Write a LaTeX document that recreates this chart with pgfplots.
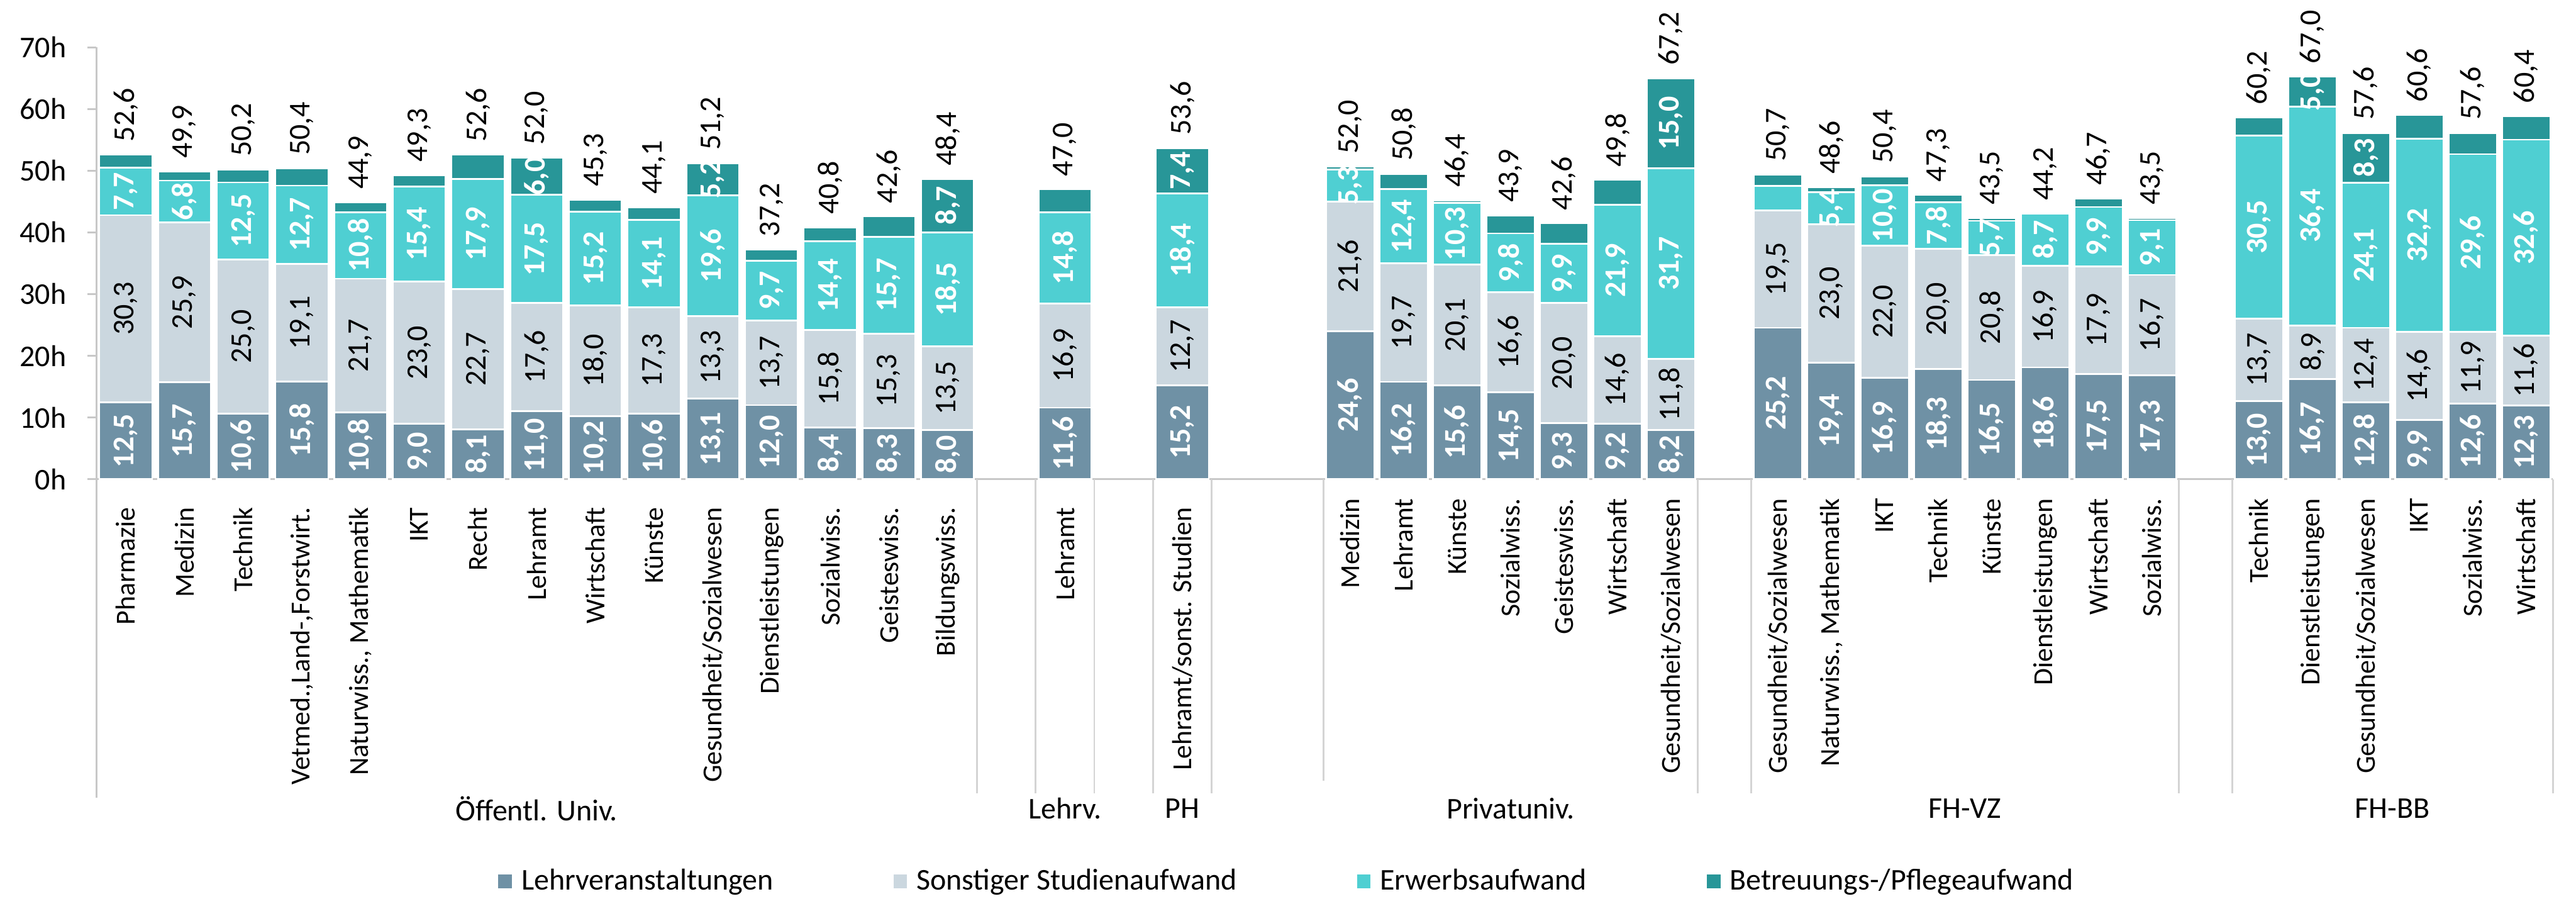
\documentclass[border=0pt]{standalone}
\usepackage{fontspec}
\setmainfont{Carlito}
\usepackage{pgfplots}
\usepackage{pgfplotstable}
\pgfplotsset{compat=1.18}
\pgfdeclarelayer{fg}
\pgfsetlayers{main,fg}

\definecolor{cL}{HTML}{6F91A5}
\definecolor{cS}{HTML}{CBD7DF}
\definecolor{cE}{HTML}{4FCFD2}
\definecolor{cB}{HTML}{289698}
\definecolor{axgray}{HTML}{C8C8C8}
\definecolor{divgray}{HTML}{D4D4D4}
\newcommand\fs{\fontsize{10.2}{12.2}\selectfont}
\newcommand\fc{\fontsize{9.3}{11}\selectfont}

\pgfplotstableread{
x  L    S    E    B    lL   lS   lE   lB  lT
0  12.5 30.3 7.7  2.1  12,5 30,3 7,7  {}  52,6
1  15.7 25.9 6.8  1.5  15,7 25,9 6,8  {}  49,9
2  10.6 25.0 12.5 2.1  10,6 25,0 12,5 {}  50,2
3  15.8 19.1 12.7 2.8  15,8 19,1 12,7 {}  50,4
4  10.8 21.7 10.8 1.6  10,8 21,7 10,8 {}  44,9
5  9.0  23.0 15.4 1.9  9,0  23,0 15,4 {}  49,3
6  8.1  22.7 17.9 3.9  8,1  22,7 17,9 {}  52,6
7  11.0 17.6 17.5 6.0  11,0 17,6 17,5 6,0 52,0
8  10.2 18.0 15.2 1.9  10,2 18,0 15,2 {}  45,3
9  10.6 17.3 14.1 2.1  10,6 17,3 14,1 {}  44,1
10 13.1 13.3 19.6 5.2  13,1 13,3 19,6 5,2 51,2
11 12.0 13.7 9.7  1.8  12,0 13,7 9,7  {}  37,2
12 8.4  15.8 14.4 2.2  8,4  15,8 14,4 {}  40,8
13 8.3  15.3 15.7 3.3  8,3  15,3 15,7 {}  42,6
14 8.0  13.5 18.5 8.7  8,0  13,5 18,5 8,7 48,4
16 11.6 16.9 14.8 3.7  11,6 16,9 14,8 {}  47,0
18 15.2 12.7 18.4 7.4  15,2 12,7 18,4 7,4 53,6
}\tabA

\pgfplotstableread{
x  L    S    E    B    lL   lS   lE   lB   lT
2  24.6 21.6 5.3  0.5  24,6 21,6 5,3  {}   52,0
3  16.2 19.7 12.4 2.5  16,2 19,7 12,4 {}   50,8
4  15.6 20.1 10.3 0.4  15,6 20,1 10,3 {}   46,4
5  14.5 16.6 9.8  3.0  14,5 16,6 9,8  {}   43,9
6  9.3  20.0 9.9  3.4  9,3  20,0 9,9  {}   42,6
7  9.2  14.6 21.9 4.1  9,2  14,6 21,9 {}   49,8
8  8.2  11.8 31.7 15.0 8,2  11,8 31,7 15,0 67,2
10 25.2 19.5 4.1  1.9  25,2 19,5 {}   {}   50,7
11 19.4 23.0 5.4  0.8  19,4 23,0 5,4  {}   48,6
12 16.9 22.0 10.0 1.5  16,9 22,0 10,0 {}   50,4
13 18.3 20.0 7.8  1.2  18,3 20,0 7,8  {}   47,3
14 16.5 20.8 5.7  0.5  16,5 20,8 5,7  {}   43,5
15 18.6 16.9 8.7  0.0  18,6 16,9 8,7  {}   44,2
16 17.5 17.9 9.9  1.4  17,5 17,9 9,9  {}   46,7
17 17.3 16.7 9.1  0.4  17,3 16,7 9,1  {}   43,5
19 13.0 13.7 30.5 3.0  13,0 13,7 30,5 {}   60,2
20 16.7 8.9  36.4 5.0  16,7 8,9  36,4 5,0  67,0
21 12.8 12.4 24.1 8.3  12,8 12,4 24,1 8,3  57,6
22 9.9  14.6 32.2 3.9  9,9  14,6 32,2 {}   60,6
23 12.6 11.9 29.6 3.5  12,6 11,9 29,6 {}   57,6
24 12.3 11.6 32.6 3.9  12,3 11,6 32,6 {}   60,4
}\tabB

\tikzset{
  wlab/.style={rotate=90, anchor=center, inner sep=0pt, text=white, font=\fs\bfseries},
  klab/.style={rotate=90, anchor=center, inner sep=0pt, text=black, font=\fs},
  tlab/.style={yshift=4.2pt, rotate=90, anchor=west, inner sep=0pt, text=black, font=\fs},
}

% value labels of one table, in a scope whose units match the axis
\newcommand\putlabels[1]{%
  \pgfplotstablegetrowsof{#1}%
  \pgfmathtruncatemacro\nrows{\pgfplotsretval-1}%
  \foreach \i in {0,...,\nrows}{%
    \pgfplotstablegetelem{\i}{x}\of{#1}\let\vx\pgfplotsretval
    \pgfplotstablegetelem{\i}{L}\of{#1}\let\vL\pgfplotsretval
    \pgfplotstablegetelem{\i}{S}\of{#1}\let\vS\pgfplotsretval
    \pgfplotstablegetelem{\i}{E}\of{#1}\let\vE\pgfplotsretval
    \pgfplotstablegetelem{\i}{B}\of{#1}\let\vB\pgfplotsretval
    \pgfmathsetmacro\yL{\vL/2}%
    \pgfmathsetmacro\yS{\vL+\vS/2}%
    \pgfmathsetmacro\yE{\vL+\vS+\vE/2}%
    \pgfmathsetmacro\yB{\vL+\vS+\vE+\vB/2}%
    \pgfmathsetmacro\yT{\vL+\vS+\vE+\vB}%
    \pgfplotstablegetelem{\i}{lL}\of{#1}\let\tL\pgfplotsretval
    \pgfplotstablegetelem{\i}{lS}\of{#1}\let\tS\pgfplotsretval
    \pgfplotstablegetelem{\i}{lE}\of{#1}\let\tE\pgfplotsretval
    \pgfplotstablegetelem{\i}{lB}\of{#1}\let\tB\pgfplotsretval
    \pgfplotstablegetelem{\i}{lT}\of{#1}\let\tT\pgfplotsretval
    \node[wlab] at (\vx,\yL) {\tL};
    \node[klab] at (\vx,\yS) {\tS};
    \node[wlab] at (\vx,\yE) {\tE};
    \node[wlab] at (\vx,\yB) {\tB};
    \node[tlab] at (\vx,\yT) {\tT};
  }%
}

\pgfplotsset{
  base/.style={
    ybar stacked, bar width=0.9, scale only axis, ymin=0, ymax=70,
    enlargelimits=false, clip=false,
    axis x line*=bottom,
    x axis line style={draw=axgray, line width=0.6pt},
    xtick style={draw=none},
    xticklabel style={font=\fc, rotate=90, anchor=east, inner sep=0pt},
    xticklabel shift=6.4pt,
  },
  seg/.style={fill=#1, draw=white, line width=0.6pt},
}

\begin{document}
\begin{tikzpicture}
\useasboundingbox (0,0) rectangle (871.2pt,303.8pt);

% ---------- value labels (foreground layer) ----------
\begin{pgfonlayer}{fg}
\begin{scope}[shift={(42.526pt,141.8pt)}, x=19.85263pt, y=2.085714pt]
\putlabels{\tabA}
\end{scope}
\begin{scope}[shift={(420.467pt,141.8pt)}, x=18.07892pt, y=2.031429pt]
\putlabels{\tabB}
\end{scope}
\end{pgfonlayer}

% ---------- left chart ----------
\begin{axis}[base,
  at={(32.6pt,141.8pt)}, anchor=south west,
  width=377.2pt, height=146pt,
  xmin=-0.5, xmax=18.5,
  axis y line*=left,
  y axis line style={draw=axgray, line width=0.6pt},
  ytick={0,10,20,30,40,50,60,70},
  yticklabels={0h,10h,20h,30h,40h,50h,60h,70h},
  ytick style={draw=axgray, line width=0.6pt},
  tick align=outside, major tick length=3pt,
  yticklabel style={font=\fs, anchor=east, inner sep=0pt},
  yticklabel shift=7pt,
  xtick={0,1,2,3,4,5,6,7,8,9,10,11,12,13,14,16,18},
  xticklabels={Pharmazie,Medizin,Technik,{Vetmed.,Land-,Forstwirt.},{Naturwiss., Mathematik},IKT,Recht,Lehramt,Wirtschaft,Künste,Gesundheit/Sozialwesen,Dienstleistungen,Sozialwiss.,Geisteswiss.,Bildungswiss.,Lehramt,Lehramt/sonst. Studien},
  legend columns=4,
  legend style={at={(1.0665,-0.9315)}, anchor=center, draw=none, fill=none, font=\fs,
    nodes={inner sep=0pt},
    /tikz/every odd column/.append style={column sep=3.2pt},
    /tikz/every even column/.append style={column sep=40.6pt}},
  legend image code/.code={\fill[#1,draw=none] (0pt,-2.3pt) rectangle (4.6pt,2.3pt);},
]
\addplot[seg=cL] table[x=x,y=L]{\tabA};
\addplot[seg=cS] table[x=x,y=S]{\tabA};
\addplot[seg=cE] table[x=x,y=E]{\tabA};
\addplot[seg=cB] table[x=x,y=B]{\tabA};
\legend{Lehrveranstaltungen,Sonstiger Studienaufwand,Erwerbsaufwand,Betreuungs-/Pflegeaufwand}
\draw[axgray, line width=0.6pt] (axis cs:-0.5,0) -- ++(0pt,-107.6pt);
\pgfplotsinvokeforeach{14.5,15.5,16.5,17.5,18.5}{\draw[divgray, line width=0.6pt] (axis cs:#1,0) -- ++(0pt,-106.2pt);}
\node[font=\fs] at ([yshift=-111.4pt]axis cs:7,0) {Öffentl. Univ.};
\node[font=\fs] at ([yshift=-111.4pt]axis cs:16,0) {Lehrv.};
\node[font=\fs] at ([yshift=-111.4pt]axis cs:18,0) {PH};
\end{axis}

% ---------- right chart ----------
\begin{axis}[base,
  at={(409.8pt,141.8pt)}, anchor=south west,
  width=453.6pt, height=142.2pt,
  xmin=-0.59, xmax=24.5,
  axis y line=none, ytick=\empty,
  xtick={2,3,4,5,6,7,8,10,11,12,13,14,15,16,17,19,20,21,22,23,24},
  xticklabels={Medizin,Lehramt,Künste,Sozialwiss.,Geisteswiss.,Wirtschaft,Gesundheit/Sozialwesen,Gesundheit/Sozialwesen,{Naturwiss., Mathematik},IKT,Technik,Künste,Dienstleistungen,Wirtschaft,Sozialwiss.,Technik,Dienstleistungen,Gesundheit/Sozialwesen,IKT,Sozialwiss.,Wirtschaft},
]
\addplot[seg=cL] table[x=x,y=L]{\tabB};
\addplot[seg=cS] table[x=x,y=S]{\tabB};
\addplot[seg=cE] table[x=x,y=E]{\tabB};
\addplot[seg=cB] table[x=x,y=B]{\tabB};
\draw[divgray, line width=0.6pt] (axis cs:1.5,0) -- ++(0pt,-102pt);
\pgfplotsinvokeforeach{8.5,9.5,17.5,18.5,24.5}{\draw[divgray, line width=0.6pt] (axis cs:#1,0) -- ++(0pt,-106.2pt);}
\node[font=\fs] at ([yshift=-111.4pt]axis cs:5,0) {Privatuniv.};
\node[font=\fs] at ([yshift=-111.4pt]axis cs:13.5,0) {FH-VZ};
\node[font=\fs] at ([yshift=-111.4pt]axis cs:21.5,0) {FH-BB};
\end{axis}
\end{tikzpicture}
\end{document}
